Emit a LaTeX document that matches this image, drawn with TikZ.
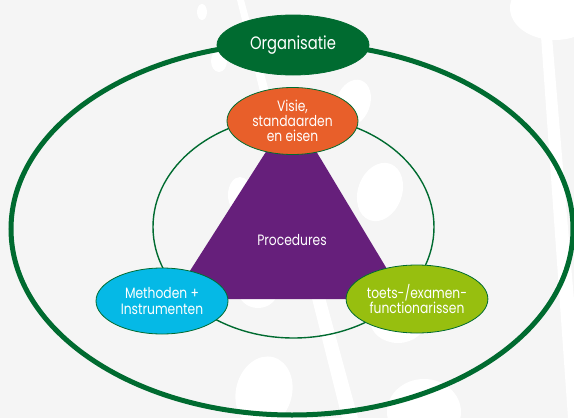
\documentclass[tikz,border=0pt]{standalone}
\usepackage{fontspec}
\setmainfont{Poppins}[FakeStretch=0.82]
\usetikzlibrary{shapes.geometric}
\definecolor{bg}{HTML}{F5F5F5}
\definecolor{dgreen}{HTML}{006B30}
\definecolor{orng}{HTML}{E85F2A}
\definecolor{cyn}{HTML}{05B9E6}
\definecolor{limeg}{HTML}{97BF0F}
\definecolor{purp}{HTML}{661F7B}
\tikzset{
  deco/.style={fill=white, draw=none},
  blob/.style={ellipse, draw=dgreen, line width=0.8pt, inner sep=0pt, text=white, align=center},
  lbl/.style={text=white, align=center, inner sep=0pt},
}
\begin{document}
\begin{tikzpicture}[x=1pt,y=-1pt]
\useasboundingbox (0,0) rectangle (574,418);
\fill[bg] (0,0) rectangle (574,418);
% background decorations
\fill[deco] (237,0) -- (244,0) -- (358,418) -- (342,418) -- cycle;
\fill[deco] (541,36) -- (552,36) -- (574,300) -- (574,418) -- (568,418) -- cycle;
\fill[deco] (555,8) ellipse [x radius=45pt, y radius=32pt];
\fill[deco] (202,12) ellipse [x radius=5pt, y radius=8pt];
\fill[deco] (219,61) ellipse [x radius=8pt, y radius=11pt];
\fill[deco, rotate around={-20:(353,103)}] (353,103) ellipse [x radius=17pt, y radius=24pt];
\fill[deco, rotate around={-20:(380,192)}] (380,192) ellipse [x radius=22pt, y radius=30pt];
\fill[deco] (240,195) ellipse [x radius=12pt, y radius=18pt];
\fill[deco] (258,290) ellipse [x radius=20pt, y radius=18pt];
\fill[deco] (398,320) ellipse [x radius=28pt, y radius=23pt];
\fill[deco, rotate around={-15:(264,392)}] (264,392) ellipse [x radius=28pt, y radius=36pt];
\fill[deco] (424,412) ellipse [x radius=37pt, y radius=33pt];
% outer ring
\draw[dgreen, line width=5pt] (292,229) ellipse [x radius=281pt, y radius=186pt];
\node[blob, fill=dgreen, minimum width=152pt, minimum height=60pt,
  font=\fontsize{18}{20}\selectfont] (org) at (293,45) {Organisatie};
% inner ring
\draw[dgreen, line width=1.4pt] (293.5,227) ellipse [x radius=140.5pt, y radius=111pt];
% triangle
\fill[purp] (292,111) -- (405,299) -- (172,299) -- cycle;
\node[lbl, font=\fontsize{15}{16}\selectfont] (proc) at (292,240) {Procedures};
\node[blob, fill=orng, minimum width=131pt, minimum height=67pt,
  font=\fontsize{15}{15}\selectfont] (visie) at (292.5,121)
  {Visie,\\ standaarden\\ en eisen};
\node[blob, fill=cyn, minimum width=132pt, minimum height=66pt,
  font=\fontsize{15}{15.5}\selectfont] (meth) at (162,301)
  {Methoden +\\ Instrumenten};
\node[blob, fill=limeg, minimum width=132pt, minimum height=68pt,
  font=\fontsize{15}{14.5}\selectfont] (toets) at (417,299)
  {toets-/examen-\\ functionarissen};
\end{tikzpicture}
\end{document}
